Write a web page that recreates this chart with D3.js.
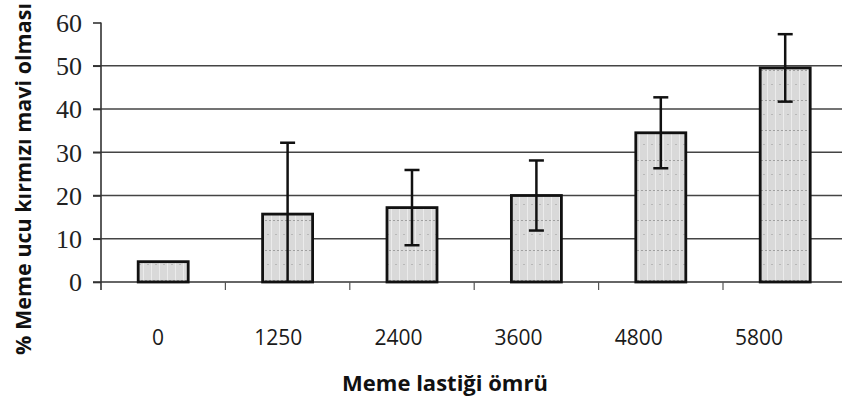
<!DOCTYPE html>
<html><head><meta charset="utf-8">
<script src="https://cdn.jsdelivr.net/npm/d3@7"></script>
<style>body{margin:0;background:#fff}svg{display:block}</style>
</head><body>
<svg id="c" width="842" height="401"></svg>
<script>
const categories = ["0","1250","2400","3600","4800","5800"];
const values = [4.7, 15.7, 17.2, 20.0, 34.5, 49.5];
const errors = [0, 16.5, 8.7, 8.1, 8.2, 7.8];
const yTicks = [0,10,20,30,40,50,60];

const svg = d3.select("#c");
const x = d3.scaleBand().domain(categories).range([101, 847.4]);
const y = d3.scaleLinear().domain([0,60]).range([282, 22.5]);
const xl = d3.scalePoint().domain(categories).range([158, 759]);
const barW = 50;

const defs = svg.append("defs");
const p = defs.append("pattern").attr("id","pat").attr("patternUnits","userSpaceOnUse")
  .attr("width",8).attr("height",30);
p.append("rect").attr("width",8).attr("height",30).attr("fill","#d9d9d9");
p.append("rect").attr("x",7).attr("width",1).attr("height",30).attr("fill","#ebebeb");
p.append("rect").attr("x",1).attr("y",10).attr("width",2).attr("height",1).attr("fill","#a0a0a0");
p.append("rect").attr("x",5).attr("y",10).attr("width",2).attr("height",1).attr("fill","#a0a0a0");
p.append("rect").attr("x",3).attr("y",24).attr("width",2).attr("height",1).attr("fill","#b8b8b8");

// gridlines
svg.append("g").selectAll("line").data(yTicks.filter(d=>d>0 && d<60)).join("line")
  .attr("x1",93).attr("x2",842).attr("y1",d=>y(d)).attr("y2",d=>y(d))
  .attr("stroke","#444").attr("stroke-width",1.6);

// y axis
const yAxis = svg.append("g").attr("transform","translate(101,0)")
  .call(d3.axisLeft(y).tickValues(yTicks).tickSize(8).tickPadding(11));
yAxis.select(".domain").remove();
yAxis.selectAll(".tick line").attr("stroke","#333").attr("stroke-width",1.6);
yAxis.selectAll(".tick text").attr("font-family","Liberation Serif").attr("font-size",26)
  .attr("fill","#222").attr("dy","0.34em");
svg.append("line").attr("x1",101).attr("x2",101).attr("y1",y(60)).attr("y2",290)
  .attr("stroke","#333").attr("stroke-width",1.6);

// x axis baseline
svg.append("line").attr("x1",93).attr("x2",842).attr("y1",y(0)).attr("y2",y(0))
  .attr("stroke","#333").attr("stroke-width",1.6);
// category boundary ticks
svg.append("g").selectAll("line").data(categories.slice(1)).join("line")
  .attr("x1",d=>x(d)).attr("x2",d=>x(d)).attr("y1",y(0)).attr("y2",290)
  .attr("stroke","#555").attr("stroke-width",1.2);

// bars
svg.append("g").selectAll("rect").data(categories).join("rect")
  .attr("x",(d)=>x(d)+x.bandwidth()/2-barW/2)
  .attr("y",(d,i)=>y(values[i]))
  .attr("width",barW)
  .attr("height",(d,i)=>y(0)-y(values[i]))
  .attr("fill","url(#pat)").attr("stroke","#111").attr("stroke-width",2.8);

// error bars
const eg = svg.append("g").attr("stroke","#111").attr("stroke-width",2.5);
categories.forEach((c,i)=>{
  if(!errors[i]) return;
  const cx = x(c)+x.bandwidth()/2;
  const hi = values[i]+errors[i], lo = Math.max(0, values[i]-errors[i]);
  eg.append("line").attr("x1",cx).attr("x2",cx).attr("y1",y(hi)).attr("y2",y(lo));
  eg.append("line").attr("x1",cx-7.5).attr("x2",cx+7.5).attr("y1",y(hi)).attr("y2",y(hi));
  if(lo>0) eg.append("line").attr("x1",cx-7.5).attr("x2",cx+7.5).attr("y1",y(lo)).attr("y2",y(lo));
});

// x labels
svg.append("g").selectAll("text").data(categories).join("text")
  .attr("x",d=>xl(d)).attr("y",345).attr("text-anchor","middle")
  .attr("font-family","Open Sans").attr("font-size",21).attr("fill","#1a1a1a")
  .text(d=>d);

// titles
svg.append("text").attr("x",445).attr("y",391).attr("text-anchor","middle")
  .attr("font-family","Open Sans").attr("font-weight","bold").attr("font-size",22)
  .attr("fill","#111").text("Meme  lastiği ömrü");
svg.append("text").attr("transform","translate(31,179) rotate(-90)").attr("text-anchor","middle")
  .attr("font-family","Open Sans").attr("font-weight","bold").attr("font-size",21.5)
  .attr("fill","#111").text("% Meme ucu kırmızı mavi olması");
</script>
</body></html>
